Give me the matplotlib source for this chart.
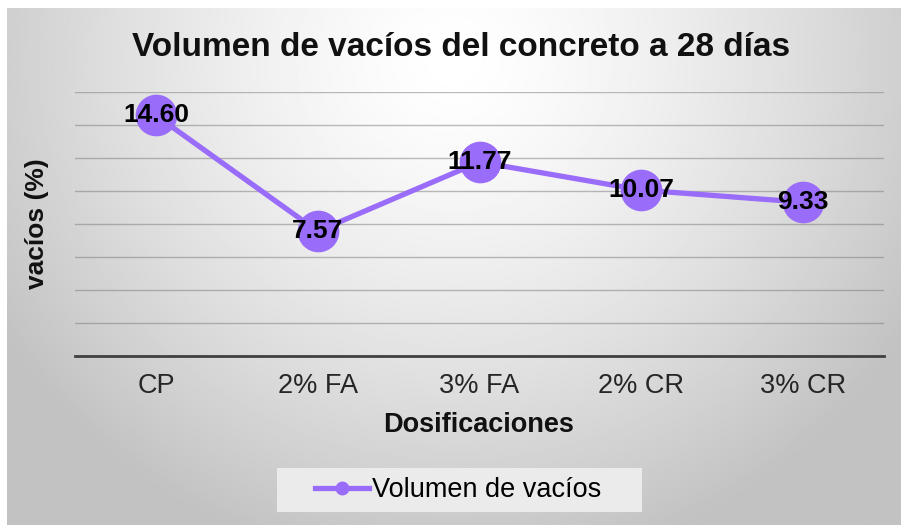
import numpy as np
import matplotlib.pyplot as plt
from matplotlib.lines import Line2D
from matplotlib.patches import Rectangle

plt.rcParams["font.family"] = ["Liberation Sans", "DejaVu Sans"]

# datos
categorias = ["CP", "2% FA", "3% FA", "2% CR", "3% CR"]
vacios = [14.60, 7.57, 11.77, 10.07, 9.33]
serie = "Volumen de vacíos"

color_linea = "#9a6cfa"

W, H = 901, 525
fig = plt.figure(figsize=(W / 100, H / 100), dpi=100)
fig.patch.set_facecolor("white")

# fondo con degradado radial (gris en bordes, blanco arriba al centro)
bg = fig.add_axes([7 / W, 0, 1 - 7 / W, 1 - 8 / H])
yy, xx = np.mgrid[0:1:300j, 0:1:500j]
d = np.sqrt(((xx - 0.5) / 0.6) ** 2 + ((yy - 0.1) / 1.0) ** 2)
v = 1.0 - 0.24 * np.clip(d, 0, 1) ** 1.4
bg.imshow(v, cmap="gray", vmin=0, vmax=1, aspect="auto", extent=[0, 1, 1, 0])
bg.axis("off")

# área de trazado
ax = fig.add_axes([75 / W, 1 - 356 / H, (884 - 75) / W, (356 - 92.3) / H])
ax.patch.set_alpha(0)
x = np.arange(len(categorias))
ax.plot(x, vacios, color=color_linea, lw=3.8, marker="o", ms=29,
        markerfacecolor=color_linea, markeredgecolor=color_linea, zorder=3)
for xi, val in zip(x, vacios):
    ax.text(xi, val, f"{val:.2f}", ha="center", va="center", fontsize=19,
            fontweight="bold", color="black", zorder=4)

ax.set_xlim(-0.5, len(categorias) - 0.5)
ax.set_ylim(0, 16)
ax.set_yticks(np.arange(0, 17, 2))
ax.set_yticklabels([])
ax.grid(axis="y", color="#7a7a7a", alpha=0.5, lw=1)
ax.set_axisbelow(True)
ax.set_xticks(x)
ax.set_xticklabels(categorias, fontsize=19.5, color="#262626")
ax.tick_params(length=0, axis="both", pad=12)
for s in ["top", "right", "left"]:
    ax.spines[s].set_visible(False)
ax.spines["bottom"].set_color("#404040")
ax.spines["bottom"].set_linewidth(2)

fig.text(0.5 * (133 + 790) / W, 1 - 47 / H, "Volumen de vacíos del concreto a 28 días",
         ha="center", va="center", fontsize=24, fontweight="bold", color="#111111")
fig.text(37 / W, 1 - 224 / H, "vacíos (%)", rotation=90, ha="center", va="center",
         fontsize=19, fontweight="bold", color="#111111")
fig.text(479 / W, 1 - 425 / H, "Dosificaciones", ha="center", va="center",
         fontsize=19.5, fontweight="bold", color="#111111")

# leyenda
fig.patches.append(Rectangle((277 / W, 1 - 512 / H), (642 - 277) / W, 44 / H,
                             transform=fig.transFigure, facecolor="#ebebeb",
                             edgecolor="none", zorder=1))
handle = Line2D([], [], color=color_linea, lw=3.8, marker="o", ms=9,
                markerfacecolor=color_linea, markeredgecolor=color_linea)
leg = fig.legend([handle], [serie], loc="center", bbox_to_anchor=(458 / W, 1 - 490 / H),
                 fontsize=19.5, frameon=False, handlelength=2.0,
                 handletextpad=0.1, borderpad=0, borderaxespad=0)

fig.savefig("out.png", dpi=100)
